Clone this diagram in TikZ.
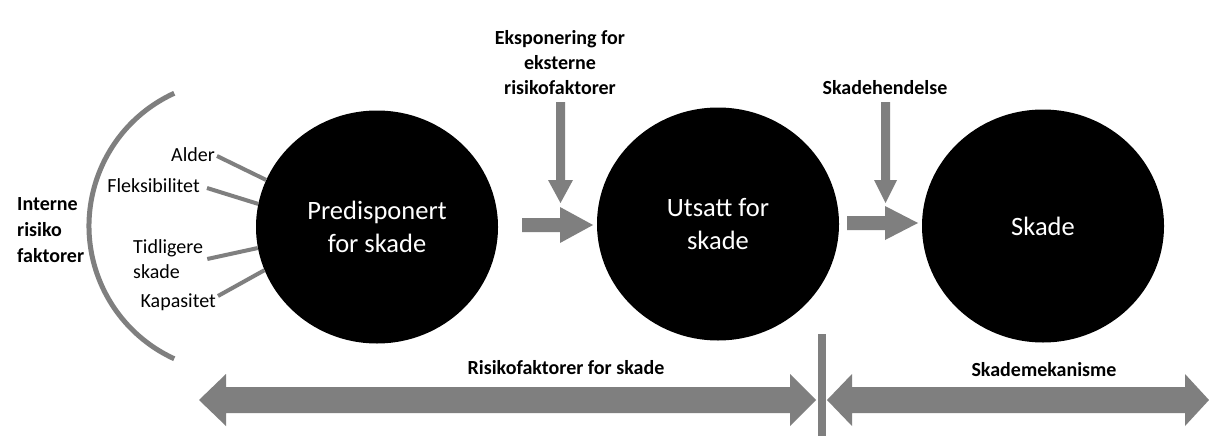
\documentclass[tikz,border=0pt]{standalone}
\usepackage{fontspec}
\setmainfont{Carlito}
\usetikzlibrary{shapes.geometric}
\definecolor{gry}{RGB}{127,127,127}
\begin{document}
\begin{tikzpicture}[x=1pt,y=-1pt,
  blob/.style={ellipse, fill=black, draw=none, minimum width=242pt, minimum height=233pt,
    inner sep=0pt, text=white, font=\fontsize{26.5}{33}\selectfont, align=center},
  lbl/.style={font=\fontsize{20}{25}\selectfont, inner sep=0pt, align=left},
  blbl/.style={font=\bfseries\fontsize{20}{25}\selectfont, inner sep=0pt, align=center},
  spoke/.style={draw=gry, line width=4pt},
  garrow/.style={fill=gry, draw=none}]
\useasboundingbox[fill=white] (0,0) rectangle (1209,436);

% circles
\node[blob] (c1) at (377,227) {Predisponert\\for skade};
\node[blob] (c2) at (718,224) {Utsatt for\\skade};
\node[blob] (c3) at (1043,226) {Skade};

% internal risk factors
\coordinate (arcc) at (235,226);
\draw[gry, line width=5pt] ([shift={(245.4:146)}]arcc) arc[start angle=245.4, end angle=114.6, radius=146];
\node[blbl, anchor=west, align=left, font=\bfseries\fontsize{20}{26}\selectfont] (intern) at (17,230) {Interne\\risiko\\faktorer};

\node[lbl, anchor=east] (alder) at (215,155) {Alder};
\node[lbl, anchor=east] (fleks) at (200,186) {Fleksibilitet};
\node[lbl, anchor=west] (tidl) at (133,259) {Tidligere\\skade};
\node[lbl, anchor=east] (kap) at (216,302) {Kapasitet};

\draw[spoke] ([xshift=2pt,yshift=-1pt]alder.east) -- (c1.157);
\draw[spoke] ([xshift=7pt,yshift=-2pt]fleks.east) -- (c1.169);
\draw[spoke] ([xshift=4pt]tidl.east) -- (c1.190);
\draw[spoke] ([xshift=2pt,yshift=6pt]kap.east) -- (c1.201);

% top labels
\node[blbl] (expo) at (560,63) {Eksponering for\\eksterne\\risikofaktorer};
\node[blbl] (hend) at (885,88) {Skadehendelse};

% down arrows
\fill[garrow] (556,102) -- (565,102) -- (565,180) -- (573,180) -- (560.5,203) -- (548,180) -- (556,180) -- cycle;
\fill[garrow] (881,102) -- (890,102) -- (890,180) -- (897,180) -- (885.5,203) -- (874,180) -- (881,180) -- cycle;

% horizontal arrows between circles
\fill[garrow] (522,218) -- (560,218) -- (560,207) -- (593,225) -- (560,243) -- (560,232) -- (522,232) -- cycle;
\fill[garrow] (847,216) -- (885,216) -- (885,206) -- (918,223) -- (885,240) -- (885,230) -- (847,230) -- cycle;

% bottom double arrows
\fill[garrow] (199,400) -- (226,374) -- (226,387) -- (790,387) -- (790,374) -- (816,400) -- (790,426) -- (790,413) -- (226,413) -- (226,426) -- cycle;
\fill[garrow] (827,400) -- (852,374) -- (852,387) -- (1185,387) -- (1185,374) -- (1209,400) -- (1185,426) -- (1185,413) -- (852,413) -- (852,426) -- cycle;
\draw[gry, line width=8pt] (822,334) -- (822,436);

\node[blbl] (risk) at (566,368) {Risikofaktorer for skade};
\node[blbl] (mek) at (1044,370) {Skademekanisme};
\end{tikzpicture}
\end{document}
